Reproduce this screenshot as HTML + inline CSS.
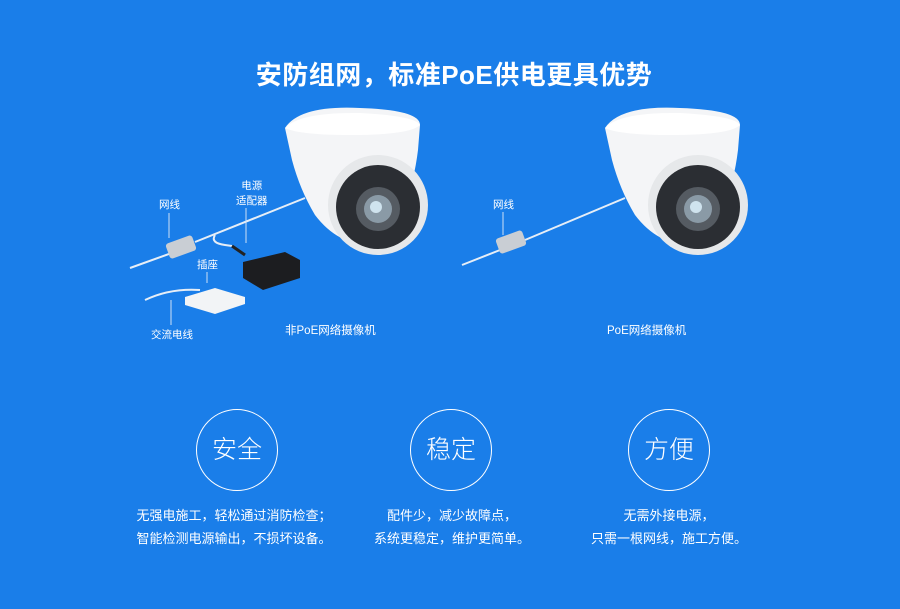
<!DOCTYPE html>
<html><head><meta charset="utf-8"><style>
body{margin:0;width:900px;height:609px;background:#1a7ee9;overflow:hidden;position:relative;font-family:"Liberation Sans","Noto Sans CJK SC",sans-serif;color:#fff}
.t{position:absolute;white-space:nowrap}
.c{position:absolute;width:80px;height:80px;border:1.5px solid #fff;border-radius:50%;font-size:25px;line-height:80px;text-align:center;font-weight:300}
.d{position:absolute;text-align:center;font-size:13px;line-height:23px;width:300px}
</style></head><body>
<div class="t" style="left:0;width:908px;text-align:center;top:55px;font-size:26px;font-weight:bold;letter-spacing:0.5px">安防组网，标准PoE供电更具优势</div>
<svg width="900" height="609" style="position:absolute;left:0;top:0">
<defs>
<g id="cam">
<path d="M285 128 Q300 105 360 108 Q420 110 420 125 L418 150 Q410 215 378 245 Q340 248 315 215 Q300 190 292 160 Z" fill="#f4f5f7"/>
<path d="M285 128 Q300 112 360 113 Q415 116 420 125 Q410 135 350 135 Q300 135 285 128Z" fill="#fff"/>
<circle cx="378" cy="205" r="50" fill="#e6e8ea"/>
<circle cx="378" cy="207" r="42" fill="#2b2e33"/>
<circle cx="378" cy="209" r="22" fill="#555b62"/>
<circle cx="378" cy="209" r="14" fill="#8a9aa6"/>
<circle cx="376" cy="207" r="6" fill="#cfe3ee"/>
</g>
</defs>
<use href="#cam"/>
<use href="#cam" x="320"/>
<g stroke="#e6eef7" stroke-width="2" fill="none">
<path d="M130 268 L180 250"/><path d="M195 242 L305 198"/>
<path d="M215 235 Q210 243 225 245 L232 246"/>
<path d="M145 300 Q170 288 200 290"/>
<path d="M462 265 L500 250"/><path d="M525 240 L625 198"/>
</g>
<g stroke="#cfe0f5" stroke-width="1">
<line x1="169" y1="213" x2="169" y2="238"/><line x1="246" y1="208" x2="246" y2="243"/>
<line x1="207" y1="272" x2="207" y2="283"/><line x1="171" y1="300" x2="171" y2="325"/>
<line x1="503" y1="212" x2="503" y2="235"/>
</g>
<rect x="167" y="239" width="28" height="16" rx="3" fill="#c9ced4" transform="rotate(-20 181 247)"/>
<rect x="497" y="234" width="28" height="16" rx="3" fill="#c9ced4" transform="rotate(-20 511 242)"/>
<path d="M232 246 L245 255" stroke="#222" stroke-width="3"/>
<path d="M243 262 L285 252 L300 260 L300 278 L263 290 L243 278Z" fill="#1c1d20"/>
<path d="M185 297 L215 288 L245 297 L245 304 L215 314 L185 305Z" fill="#f2f4f6"/>
</svg>
<div class="t" style="left:159px;top:197px;font-size:10.5px">网线</div>
<div class="t" style="left:236px;top:179px;font-size:10.5px;line-height:15px;text-align:center">电源<br>适配器</div>
<div class="t" style="left:197px;top:257px;font-size:10.5px">插座</div>
<div class="t" style="left:151px;top:327px;font-size:10.5px">交流电线</div>
<div class="t" style="left:285px;top:322px;font-size:11.5px">非PoE网络摄像机</div>
<div class="t" style="left:493px;top:197px;font-size:10.5px">网线</div>
<div class="t" style="left:607px;top:322px;font-size:11.5px">PoE网络摄像机</div>
<div class="c" style="left:196px;top:409px">安全</div>
<div class="c" style="left:410px;top:409px">稳定</div>
<div class="c" style="left:628px;top:409px">方便</div>
<div class="d" style="left:84px;top:504px">无强电施工，轻松通过消防检查；<br>智能检测电源输出，不损坏设备。</div>
<div class="d" style="left:302px;top:504px">配件少，减少故障点，<br>系统更稳定，维护更简单。</div>
<div class="d" style="left:519px;top:504px">无需外接电源，<br>只需一根网线，施工方便。</div>
</body></html>
